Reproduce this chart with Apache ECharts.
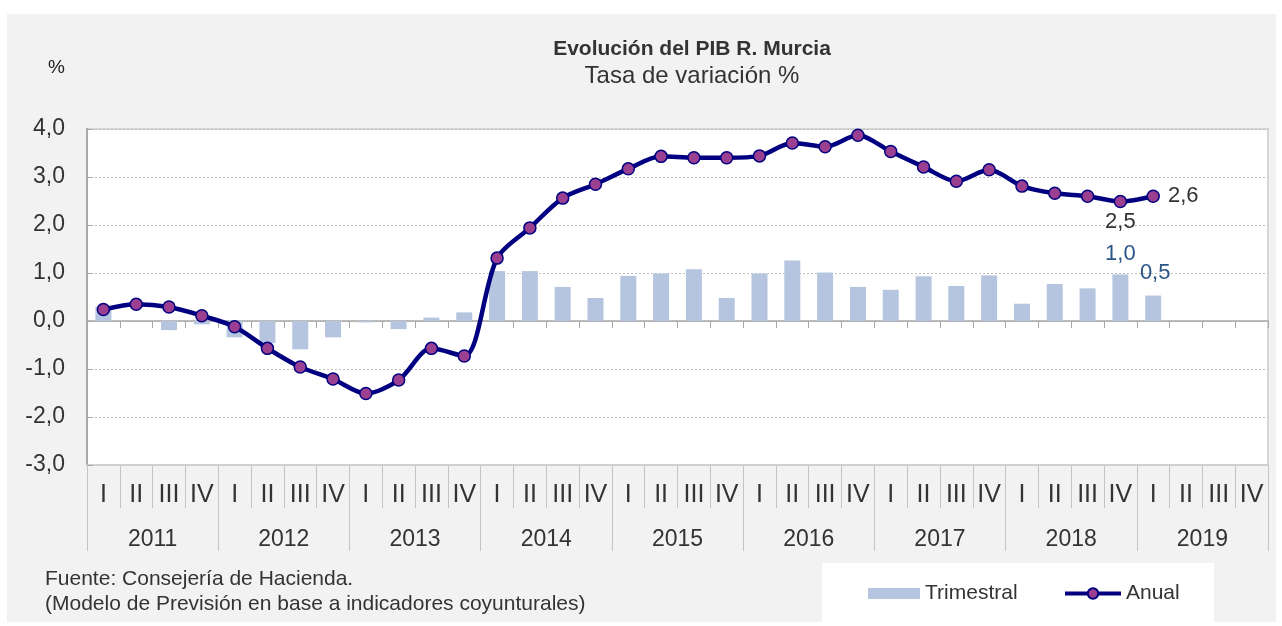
<!DOCTYPE html>
<html>
<head>
<meta charset="utf-8">
<script src="https://cdn.jsdelivr.net/npm/echarts@6/dist/echarts.min.js"></script>
<style>
  html, body { margin: 0; padding: 0; background: #fff; }
  #frame { position: absolute; left: 7px; top: 14px; width: 1269px; height: 608px; background: #f2f2f2; }
  #myChart { position: absolute; left: 0; top: 0; width: 1282px; height: 626px; }
</style>
</head>
<body>
<div id="frame"></div>
<div id="myChart"></div>
<script>
// datos
const years = ['2011', '2012', '2013', '2014', '2015', '2016', '2017', '2018', '2019'];
const quarterNames = ['I', 'II', 'III', 'IV'];
const trimestral = [0.30, 0.00, -0.19, -0.07, -0.34, -0.46, -0.59, -0.34, -0.03, -0.17, 0.07, 0.18,
  1.04, 1.04, 0.71, 0.48, 0.94, 0.99, 1.08, 0.48, 0.99, 1.26, 1.01, 0.71,
  0.65, 0.93, 0.73, 0.95, 0.36, 0.77, 0.68, 0.97, 0.53, null, null, null];
const anual = [0.24, 0.35, 0.29, 0.11, -0.12, -0.57, -0.96, -1.21, -1.51, -1.23, -0.57, -0.73,
  1.31, 1.94, 2.56, 2.85, 3.17, 3.43, 3.40, 3.40, 3.44, 3.71, 3.63, 3.87,
  3.53, 3.21, 2.91, 3.15, 2.81, 2.66, 2.60, 2.49, 2.60, null, null, null];
const yTicks = { min: -3, max: 4, interval: 1 };

const categories = [];
years.forEach(function (y) {
  quarterNames.forEach(function (q) { categories.push(q); });
});

const FONT = '"Liberation Sans", Arial, sans-serif';
const fmt = function (v) { return Number(v).toFixed(1).replace('.', ','); };

const last = anual.reduce(function (acc, v, i) { return v === null ? acc : i; }, 0);

const barData = trimestral.map(function (v, i) {
  if (i === last - 1 || i === last) {
    return {
      value: v,
      label: {
        show: true, position: 'top', distance: i === last ? 12 : 10,
        offset: i === last ? [2, 0] : [0, 0],
        formatter: function (p) { return fmt(p.value); },
        color: '#2a5587', fontSize: 22, fontFamily: FONT
      }
    };
  }
  return v;
});
const lineData = anual.map(function (v, i) {
  if (i === last - 1) {
    return { value: v, label: { show: true, position: 'bottom', distance: 3, formatter: function (p) { return fmt(p.value); }, color: '#333', fontSize: 22, fontFamily: FONT } };
  }
  if (i === last) {
    return { value: v, label: { show: true, position: 'right', distance: 8, formatter: function (p) { return fmt(p.value); }, color: '#333', fontSize: 22, fontFamily: FONT } };
  }
  return v;
});

const myChart = echarts.init(document.getElementById('myChart'));
myChart.setOption({
  animation: false,
  backgroundColor: 'transparent',
  title: {
    text: 'Evolución del PIB R. Murcia',
    subtext: 'Tasa de variación %',
    left: 687,
    top: 34,
    textAlign: 'center',
    itemGap: 4,
    textStyle: { fontFamily: FONT, fontSize: 21, fontWeight: 'bold', color: '#333' },
    subtextStyle: { fontFamily: FONT, fontSize: 24, color: '#333' }
  },
  graphic: [
    { type: 'text', left: 48, top: 58, style: { text: '%', font: '19px ' + FONT, fill: '#222' } },
    { type: 'rect', z: -1, shape: { x: 822, y: 563, width: 392, height: 59 }, style: { fill: '#fff' } },
    { type: 'text', left: 45, top: 569, style: { text: 'Fuente: Consejería de Hacienda.', font: '21px ' + FONT, fill: '#333' } },
    { type: 'text', left: 45, top: 594, style: { text: '(Modelo de Previsión en base a indicadores coyunturales)', font: '21px ' + FONT, fill: '#333' } }
  ],
  legend: [
    {
      data: [{ name: 'Trimestral', icon: 'rect' }],
      left: 868, top: 583, padding: 0, itemWidth: 52, itemHeight: 11,
      textStyle: { fontFamily: FONT, fontSize: 21, color: '#333' }
    },
    {
      data: ['Anual'],
      left: 1063, top: 583, padding: 0, itemWidth: 56, itemHeight: 13,
      lineStyle: { width: 4 },
      textStyle: { fontFamily: FONT, fontSize: 21, color: '#333' }
    }
  ],
  grid: {
    left: 87, right: 14, top: 129, bottom: 161,
    show: true, backgroundColor: '#fff', borderColor: '#d6d6d6', borderWidth: 2
  },
  xAxis: [
    {
      type: 'category', data: categories, position: 'bottom',
      axisLine: { show: true, onZero: false, lineStyle: { color: '#d0d0d0', width: 1.5 } },
      axisTick: { show: true, interval: 0, length: 43, lineStyle: { color: '#c4c4c4', width: 1 } },
      axisLabel: { show: true, interval: 0, margin: 18, fontFamily: FONT, fontSize: 25, color: '#333' }
    },
    {
      type: 'category', data: years, position: 'bottom',
      axisLine: { show: false, onZero: false },
      axisTick: { show: true, interval: 0, length: 86, lineStyle: { color: '#c4c4c4', width: 1 } },
      axisLabel: { show: true, interval: 0, margin: 63, fontFamily: FONT, fontSize: 23, color: '#333' }
    },
    {
      type: 'category', data: categories, position: 'bottom',
      axisLine: { onZero: true, lineStyle: { color: '#a6a6a6', width: 1.5 } },
      axisTick: { show: true, interval: 0, length: 7, lineStyle: { color: '#a6a6a6' } },
      axisLabel: { show: false }
    }
  ],
  yAxis: {
    type: 'value', min: yTicks.min, max: yTicks.max, interval: yTicks.interval,
    axisLine: { show: true, lineStyle: { color: '#a9a9a9', width: 2 } },
    axisTick: { show: true, inside: true, length: 6, lineStyle: { color: '#a9a9a9' } },
    axisLabel: { margin: 22, fontFamily: FONT, fontSize: 23, color: '#333', formatter: fmt },
    splitLine: { lineStyle: { type: [2, 2], color: '#c0c0c0' } }
  },
  series: [
    {
      name: 'Trimestral', type: 'bar', data: barData, barWidth: 16,
      itemStyle: { color: '#b5c5e0' }, z: 2
    },
    {
      name: 'Anual', type: 'line', data: lineData, smooth: 0.3,
      symbol: 'circle', symbolSize: 12, z: 3,
      lineStyle: { color: '#000080', width: 4.5 },
      itemStyle: { color: '#9b3f91', borderColor: '#000080', borderWidth: 1.5 }
    }
  ]
});
</script>
</body>
</html>
